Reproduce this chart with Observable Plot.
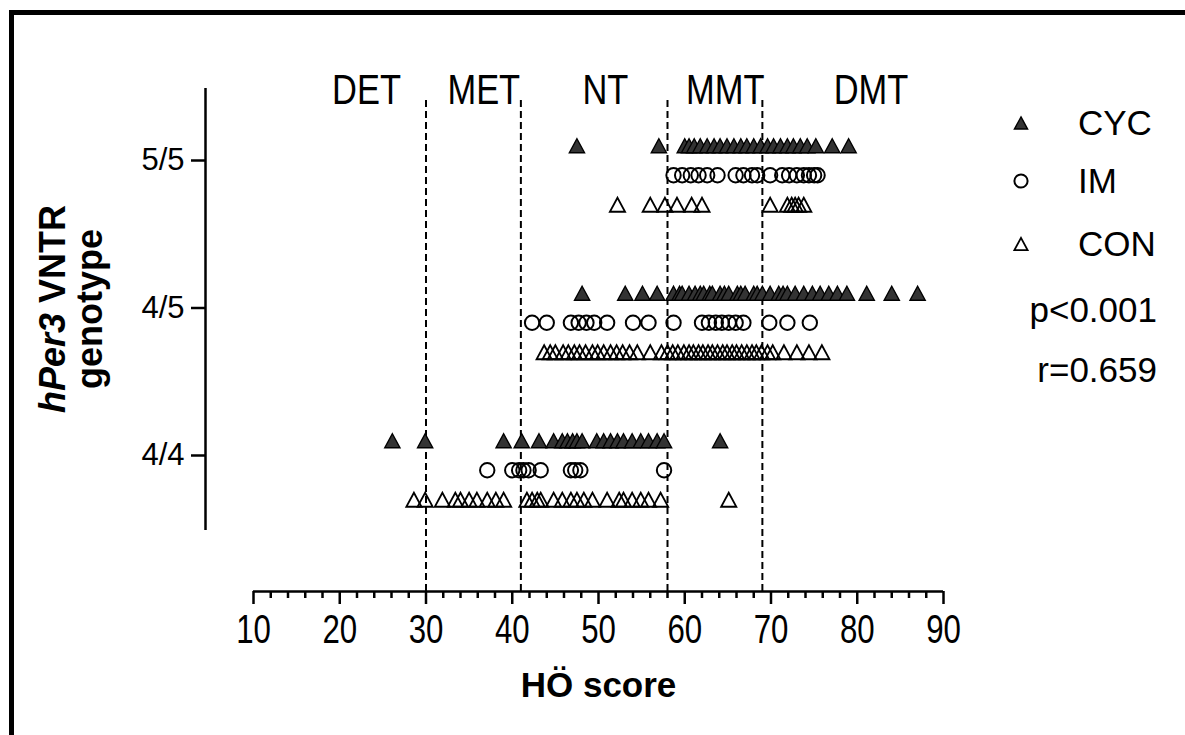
<!DOCTYPE html>
<html><head><meta charset="utf-8">
<script src="https://cdn.jsdelivr.net/npm/d3@7"></script>
<script src="https://cdn.jsdelivr.net/npm/@observablehq/plot@0.6"></script>
<style>
body{margin:0;background:#fff;}
#wrap{position:relative;width:1185px;height:735px;overflow:hidden;background:#fff;}
#frame{position:absolute;left:9px;top:10px;width:1300px;height:900px;border-left:5px solid #000;border-top:5px solid #000;box-sizing:border-box;}
#chart{position:absolute;left:0;top:0;}
</style></head><body>
<div id="wrap"><div id="frame"></div><div id="chart"></div></div>
<script>
// ---------- data ----------
const genotypes = ["4/4", "4/5", "5/5"];
const groups = ["CYC", "IM", "CON"];

const cyc55 = [47.5, 57.0, 60.0, 60.5, 61.1, 61.8, 62.6, 63.4, 64.1, 64.9, 65.7, 66.5, 67.2, 68.0, 68.8, 69.6, 70.3, 71.1, 71.9, 72.6, 73.4, 74.2, 75.2, 77.1, 79.0];
const im55  = [58.7, 59.7, 60.7, 61.6, 62.6, 63.8, 65.9, 66.8, 67.8, 68.4, 69.9, 71.3, 72.1, 73.0, 73.8, 74.4, 75.0, 75.4];
const con55 = [52.2, 56.0, 57.7, 59.1, 60.8, 62.0, 69.9, 71.9, 72.4, 72.8, 73.2, 73.8];

const cyc45 = [48.1, 53.1, 55.1, 56.8, 58.7, 59.4, 59.7, 60.5, 61.2, 61.8, 62.2, 62.9, 63.2, 64.1, 64.6, 65.1, 66.1, 66.5, 67.0, 68.0, 68.4, 69.0, 69.9, 70.9, 71.4, 71.9, 72.8, 73.8, 74.8, 75.7, 76.7, 77.7, 78.8, 81.1, 84.0, 87.0];
const im45  = [42.3, 44.0, 46.8, 47.7, 48.6, 49.5, 51.0, 54.0, 55.8, 58.7, 62.0, 62.8, 63.6, 64.3, 65.1, 65.9, 66.8, 69.8, 71.9, 74.5];
const con45 = [43.7, 44.4, 45.0, 45.9, 46.5, 47.2, 47.8, 48.5, 49.3, 49.9, 50.6, 51.4, 52.1, 52.8, 53.6, 54.5, 56.0, 57.3, 58.0, 58.6, 59.2, 59.9, 60.5, 61.0, 61.6, 62.1, 62.7, 63.2, 63.8, 64.4, 64.9, 65.5, 66.0, 66.6, 67.2, 67.8, 68.3, 68.9, 69.6, 70.2, 71.5, 73.0, 74.4, 75.9];

const cyc44 = [26.1, 29.9, 39.0, 41.1, 43.1, 44.8, 45.8, 46.4, 47.0, 47.5, 48.1, 49.8, 50.6, 51.4, 52.2, 52.9, 53.9, 54.9, 55.8, 56.8, 57.6, 64.1];
const im44  = [37.1, 40.0, 40.8, 41.3, 41.9, 43.3, 46.8, 47.3, 47.9, 57.6];
const con44 = [28.6, 29.9, 31.9, 33.4, 34.0, 35.0, 35.9, 37.1, 38.1, 39.0, 41.7, 42.3, 42.9, 43.3, 44.8, 45.8, 46.8, 47.5, 48.3, 49.3, 51.0, 52.4, 52.9, 53.9, 54.9, 55.8, 57.2, 65.1];

const cutoffs = [30, 41, 58, 69];
const zoneNames = ["DET", "MET", "NT", "MMT", "DMT"];
const zoneCenters = [23.1, 36.7, 50.8, 64.7, 81.6];
const xTicks = [10, 20, 30, 40, 50, 60, 70, 80, 90];
const xMinorTicks = [12,14,16,18,22,24,26,28,32,34,36,38,42,44,46,48,52,54,56,58,62,64,66,68,72,74,76,78,82,84,86,88];
const statLabels = ["p<0.001", "r=0.659"];
const xTitle = "HÖ score";

// ---------- build table ----------
const series = {
  "4/4": {CYC: cyc44, IM: im44, CON: con44},
  "4/5": {CYC: cyc45, IM: im45, CON: con45},
  "5/5": {CYC: cyc55, IM: im55, CON: con55}
};
const rowOffset = {CYC: 0.1, IM: -0.1, CON: -0.3};
const rows = [];
genotypes.forEach((g, gi) => {
  groups.forEach(grp => {
    series[g][grp].forEach(v => rows.push({score: v, genotype: g, group: grp, y: gi + 1 + rowOffset[grp]}));
  });
});

// custom triangle symbol (GraphPad style)
const tri = {
  draw(ctx, size) {
    const h = Math.sqrt(size / Math.PI);
    ctx.moveTo(0, -0.92 * h);
    ctx.lineTo(h, 0.92 * h);
    ctx.lineTo(-h, 0.92 * h);
    ctx.closePath();
  }
};

// ---------- layout ----------
const W = 1185, H = 735;
const mL = 205, mR = 242, mT = 88, mB = 144;
const pxPerX = 690 / 80;
const xMin = 10 - (253 - mL) / pxPerX;
const pxPerY = 147.5;
const yMax = 3 + (160 - mT) / pxPerY;
const yMin = 1 - ((H - mB) - 455) / pxPerY;
const yAxisBottom = 1 - (530 - 455) / pxPerY;
const dashTop = 3 + (160 - 100) / pxPerY;
const zoneY = 3 + (160 - 90) / pxPerY;

const sans = "'Liberation Sans',Arial,Helvetica,sans-serif";

const plot = Plot.plot({
  width: W, height: H,
  marginLeft: mL, marginRight: mR, marginTop: mT, marginBottom: mB,
  x: {domain: [xMin, 90]},
  y: {domain: [yMin, yMax]},
  style: {fontFamily: sans, color: "#000", background: "transparent", overflow: "visible"},
  marks: [
    Plot.ruleX(cutoffs, {y1: yMin, y2: dashTop, stroke: "#000", strokeWidth: 2, strokeDasharray: "7,4"}),
    Plot.ruleX([xMin], {y1: yAxisBottom, y2: yMax, stroke: "#000", strokeWidth: 2.5}),
    Plot.ruleY([yMin], {x1: 10, x2: 90, stroke: "#000", strokeWidth: 2.5}),
    Plot.axisX({ticks: xMinorTicks, tickSize: 7, tickFormat: () => "", label: null, strokeWidth: 2.5}),
    Plot.axisX({ticks: xTicks, tickSize: 13, tickPadding: 10, label: null, strokeWidth: 2.5,
                fontSize: 40, tickFormat: d => String(d), ariaLabel: "xticklabels"}),
    Plot.axisY({ticks: [1, 2, 3], tickFormat: d => genotypes[d - 1], tickSize: 14, tickPadding: 7,
                label: null, strokeWidth: 2.5, fontSize: 31}),
    Plot.dot(rows.filter(d => d.group === "CON"), {x: "score", y: "y", symbol: tri, r: 7.6,
                fill: "none", stroke: "#000", strokeWidth: 1.8}),
    Plot.dot(rows.filter(d => d.group === "IM"), {x: "score", y: "y", symbol: "circle", r: 7.2,
                fill: "none", stroke: "#000", strokeWidth: 2}),
    Plot.dot(rows.filter(d => d.group === "CYC"), {x: "score", y: "y", symbol: tri, r: 7.6,
                fill: "#333", stroke: "#000", strokeWidth: 1.4}),
    Plot.text(zoneNames, {x: (d, i) => zoneCenters[i], y: zoneY, text: d => d, fontSize: 42,
                lineAnchor: "middle", fill: "#000", ariaLabel: "zonelabels"}),
    Plot.text([xTitle], {x: 50, y: yMin, dy: 94, text: d => d, fontSize: 35, fontWeight: "bold",
                lineAnchor: "middle", fill: "#000"})
  ]
});

document.getElementById("chart").appendChild(plot);

// condense the narrow-font labels (GraphPad used a narrow face)
function condense(nodes, f) {
  nodes.forEach(t => {
    const L = t.getComputedTextLength();
    if (L > 0) {
      t.setAttribute("textLength", (L * f).toFixed(2));
      t.setAttribute("lengthAdjust", "spacingAndGlyphs");
    }
  });
}
const xLabelTexts = [...plot.querySelectorAll("text")].filter(t => xTicks.map(String).includes(t.textContent));
condense(xLabelTexts, 0.78);
const zoneTexts = [...plot.querySelectorAll("text")].filter(t => zoneNames.includes(t.textContent));
condense(zoneTexts, 0.82);

// ---------- y-axis title (mixed italic) ----------
const svg = d3.select(plot);
const yt = svg.append("text")
  .attr("transform", "translate(65,309) rotate(-90)")
  .attr("text-anchor", "middle")
  .attr("font-family", sans).attr("font-weight", "bold").attr("font-size", 36).attr("fill", "#000");
yt.append("tspan").attr("font-style", "italic").text("hPer3");
yt.append("tspan").text(" VNTR");
svg.append("text")
  .attr("transform", "translate(102,309) rotate(-90)")
  .attr("text-anchor", "middle")
  .attr("font-family", sans).attr("font-weight", "bold").attr("font-size", 36).attr("fill", "#000")
  .text("genotype");

// ---------- legend ----------
const leg = svg.append("g");
const legendStyle = {
  CYC: {sym: tri, fill: "#333", stroke: "#000", sw: 1.4, y: 123},
  IM: {sym: d3.symbolCircle, fill: "none", stroke: "#000", sw: 2, y: 181},
  CON: {sym: tri, fill: "none", stroke: "#000", sw: 1.8, y: 244}
};
const textBase = {CYC: 135, IM: 193, CON: 256};
groups.forEach(g => {
  const s = legendStyle[g];
  leg.append("path")
    .attr("transform", `translate(1021,${s.y})`)
    .attr("d", d3.symbol(s.sym, Math.PI * 6.6 * 6.6)())
    .attr("fill", s.fill).attr("stroke", s.stroke).attr("stroke-width", s.sw);
  leg.append("text").attr("x", 1078).attr("y", textBase[g]).attr("text-anchor", "start")
    .attr("font-family", sans).attr("font-size", 35).attr("fill", "#000").text(g);
});
const statBase = [322, 382];
statLabels.forEach((t, i) => {
  leg.append("text").attr("x", 1157).attr("y", statBase[i]).attr("text-anchor", "end")
    .attr("font-family", sans).attr("font-size", 35).attr("fill", "#000").text(t);
});
</script>
</body></html>
